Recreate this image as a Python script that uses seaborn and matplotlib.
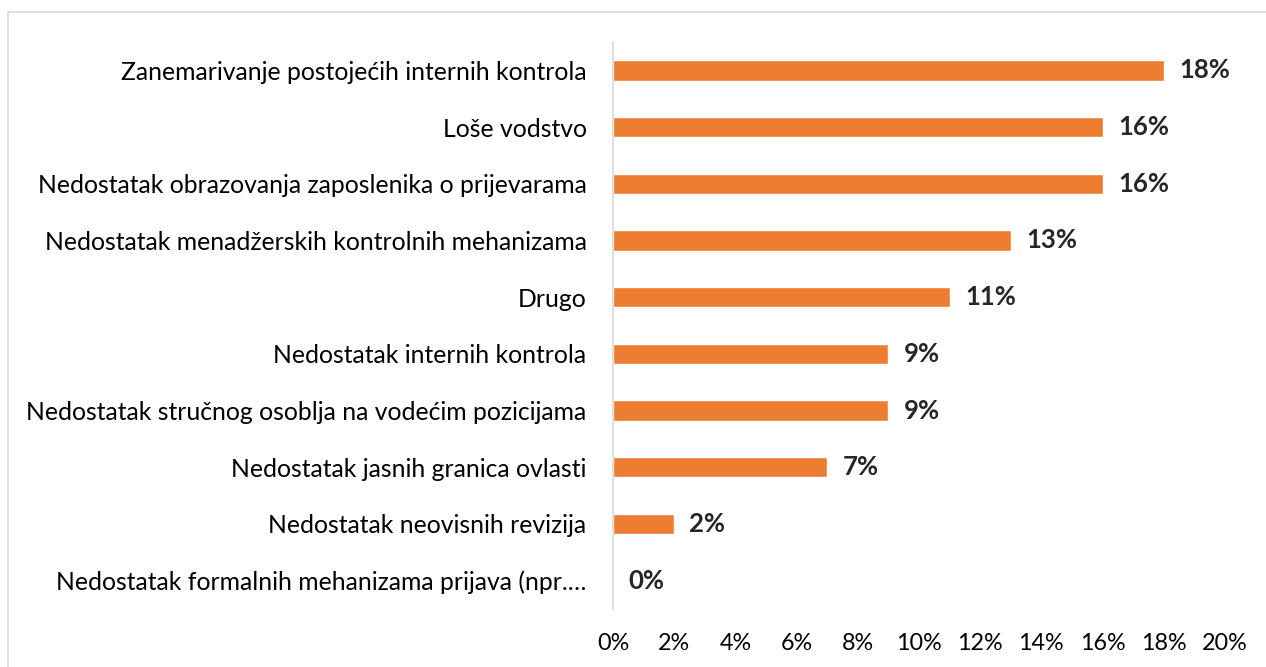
import matplotlib
matplotlib.use('Agg')
import matplotlib.pyplot as plt
import seaborn as sns
import pandas as pd
from matplotlib.patches import Rectangle
from matplotlib.ticker import PercentFormatter

# podaci
uzroci = [
    'Zanemarivanje postojećih internih kontrola',
    'Loše vodstvo',
    'Nedostatak obrazovanja zaposlenika o prijevarama',
    'Nedostatak menadžerskih kontrolnih mehanizama',
    'Drugo',
    'Nedostatak internih kontrola',
    'Nedostatak stručnog osoblja na vodećim pozicijama',
    'Nedostatak jasnih granica ovlasti',
    'Nedostatak neovisnih revizija',
    'Nedostatak formalnih mehanizama prijava (npr.…',
]
postotci = [18, 16, 16, 13, 11, 9, 9, 7, 2, 0]

df = pd.DataFrame({'uzrok': uzroci, 'postotak': postotci})

sns.set_style('white')
plt.rcParams['font.family'] = ['Lato', 'DejaVu Sans']

fig = plt.figure(figsize=(12.66, 6.67), dpi=100)
ax = fig.add_axes([613 / 1266, 1 - 609 / 667, 612 / 1266, 567 / 667])

sns.barplot(data=df, x='postotak', y='uzrok', color='#ED7D31',
            width=0.36, saturation=1, ax=ax)

ax.set_xlim(0, 20)
ax.set_ylim(9.5, -0.5)
ax.set_xticks(range(0, 21, 2))
ax.xaxis.set_major_formatter(PercentFormatter(decimals=0))
ax.set_xlabel('')
ax.set_ylabel('')
ax.tick_params(axis='y', length=0, pad=19, labelsize=17.8, colors='#000000')
ax.tick_params(axis='x', length=0, pad=17, labelsize=16.8, colors='#000000')

for s in ['top', 'right', 'bottom']:
    ax.spines[s].set_visible(False)
ax.spines['left'].set_color('#D9D9D9')
ax.spines['left'].set_linewidth(1.2)

ax.bar_label(ax.containers[0], labels=[f'{v}%' for v in postotci],
             padding=11, fontsize=18.5, fontweight='bold')

# okvir oko grafikona
fig.patches.append(Rectangle((8 / 1266, -0.1), 1.2, 1 - 12 / 667 + 0.1,
                             transform=fig.transFigure, fill=False,
                             edgecolor='#D9D9D9', linewidth=1.2))

fig.savefig('out.png', dpi=100)
